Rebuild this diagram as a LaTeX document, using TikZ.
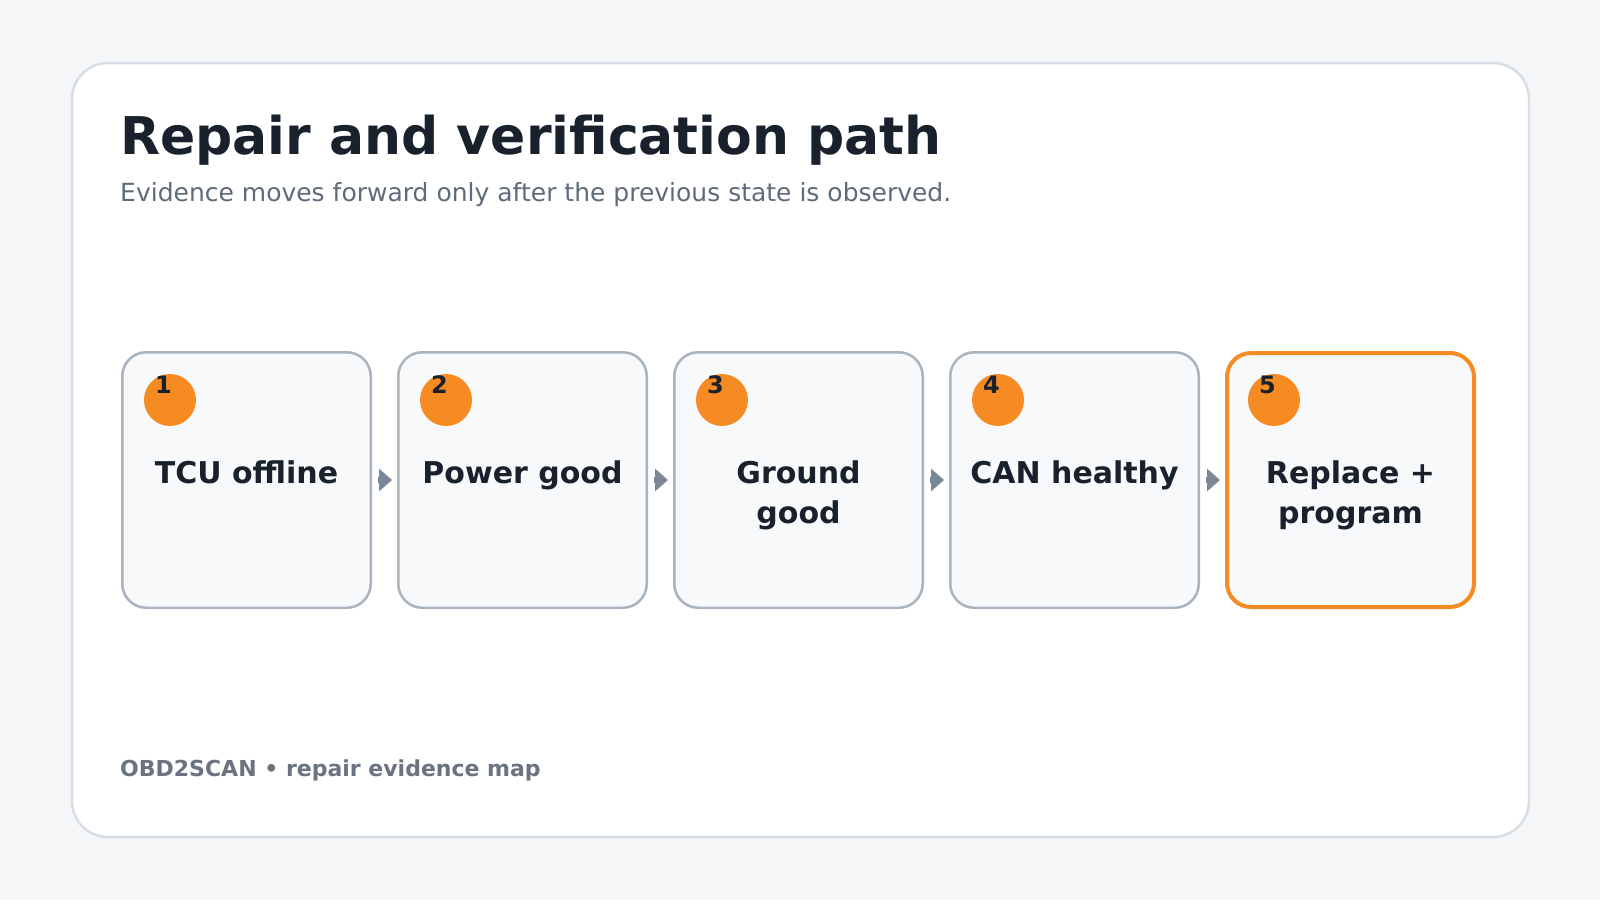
\documentclass[tikz,border=0pt]{standalone}
\usepackage{fontspec}
\setmainfont{DejaVu Sans}
\usetikzlibrary{arrows.meta}
\usetikzlibrary{calc}
\definecolor{pagebg}{HTML}{F4F6F8}
\definecolor{cardline}{HTML}{D8DEE6}
\definecolor{boxfill}{HTML}{F7F9FB}
\definecolor{boxline}{HTML}{A9B4BF}
\definecolor{accent}{HTML}{F68B24}
\definecolor{ink}{HTML}{18212C}
\definecolor{muted}{HTML}{5F6B7A}
\definecolor{footgray}{HTML}{6B7380}
\definecolor{arrowgray}{HTML}{7B8794}
\tikzset{
    stepbox/.style={
        draw=boxline,
        line width=2.5pt,
        fill=boxfill,
        rounded corners=24pt,
        minimum width=248.5pt,
        minimum height=255.5pt},
    laststep/.style={
        stepbox,
        draw=accent,
        line width=4pt,
        minimum width=247pt,
        minimum height=254pt},
    badge/.style={
        circle,
        fill=accent,
        inner sep=0pt,
        minimum size=52pt},
    badgenum/.style={
        anchor=base west,
        inner sep=0pt,
        text=ink,
        font=\bfseries\fontsize{24}{28}\selectfont},
    steptext/.style={
        anchor=base,
        align=center,
        inner sep=0pt,
        text=ink,
        font=\bfseries\fontsize{30}{40}\selectfont},
    flow/.style={
        draw=arrowgray,
        line width=6pt,
        -{Triangle[length=13pt,width=22pt]},
        arrowgray,
        shorten <=6pt,
        shorten >=5pt}}

\begin{document}
\begin{tikzpicture}[x=1pt,y=-1pt]
        \useasboundingbox (0,0) rectangle (1600,900);
        \fill[pagebg] (0,0) rectangle (1600,900);
        \draw[cardline,line width=2.5pt,fill=white,rounded corners=36pt] (72,63) rectangle (1529,837);

        \node[anchor=base west,inner sep=0pt,text=ink,font=\bfseries\fontsize{52}{60}\selectfont] (title) at (120,154) {Repair and verification path};
        \node[anchor=base west,inner sep=0pt,text=muted,font=\fontsize{25}{30}\selectfont] (subtitle) at (120,201) {Evidence moves forward only after the previous state is observed.};

        \node[stepbox] (s1) at (246.5,480) {};
        \node[stepbox] (s2) at (522.5,480) {};
        \node[stepbox] (s3) at (798.5,480) {};
        \node[stepbox] (s4) at (1074.5,480) {};
        \node[laststep] (s5) at (1350.5,480) {};

        \foreach \i in {1,...,5} {
            \node[badge] (b\i) at ($(s\i.center)+(-76.5,-80)$) {};
            \node[badgenum] (n\i) at ($(s\i.center)+(-91.5,-87)$) {\i};
        }

        % two-line labels sit on their last baseline
        \node[steptext] (t1) at ($(s1.center)+(0,3)$) {TCU offline};
        \node[steptext] (t2) at ($(s2.center)+(0,3)$) {Power good};
        \node[steptext] (t3) at ($(s3.center)+(0,43)$) {Ground\\good};
        \node[steptext] (t4) at ($(s4.center)+(0,3)$) {CAN healthy};
        \node[steptext] (t5) at ($(s5.center)+(0,43)$) {Replace +\\program};

        \draw[flow] (s1) -- (s2);
        \draw[flow] (s2) -- (s3);
        \draw[flow] (s3) -- (s4);
        \draw[flow] (s4) -- (s5);

        \node[anchor=base west,inner sep=0pt,text=footgray,font=\bfseries\fontsize{22}{26}\selectfont] (footer) at (120,776) {OBD2SCAN • repair evidence map};
    \end{tikzpicture}
\end{document}
